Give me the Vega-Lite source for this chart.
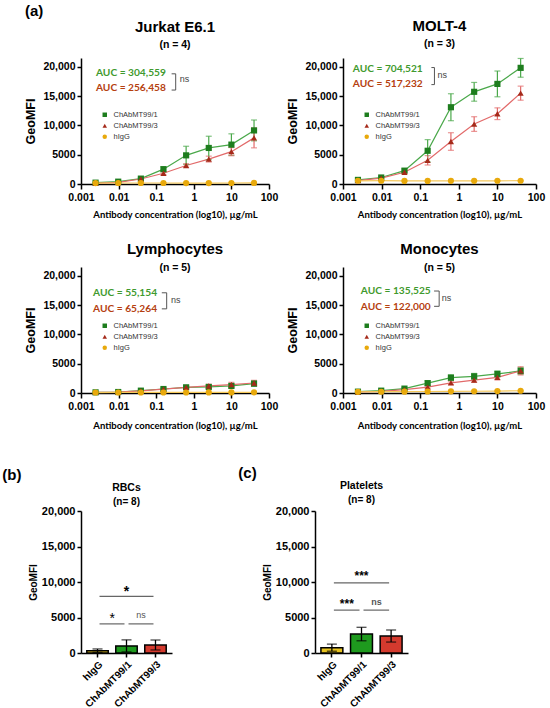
{
  "$schema": "https://vega.github.io/schema/vega-lite/v6.json",
  "background": "white",
  "padding": {"left": 2, "top": 4, "right": 2, "bottom": 2},
  "config": {
    "view": {"stroke": null},
    "font": "Liberation Sans",
    "axis": {
      "domainColor": "black", "domainWidth": 1.5, "tickColor": "black", "tickWidth": 1.5,
      "grid": false, "labelColor": "black", "labelFont": "Liberation Sans", "labelFontWeight": "bold",
      "titleColor": "black", "titleFont": "Liberation Sans", "titleFontWeight": "bold"
    },
    "axisY": {"tickCount": 5, "labelOverlap": false, "labelExpr": "datum.value >= 10000 ? format(datum.value, ',') : format(datum.value, 'd')"},
    "title": {
      "font": "Liberation Sans", "fontWeight": "bold", "color": "black",
      "subtitleFont": "Liberation Sans", "subtitleFontWeight": "bold", "subtitleColor": "black"
    }
  },
  "datasets": {
    "jurkat": [
      {"ab": "ChAbMT99/1", "conc": 0.00244, "mfi": 230, "sd": 60},
      {"ab": "ChAbMT99/1", "conc": 0.00977, "mfi": 400, "sd": 80},
      {"ab": "ChAbMT99/1", "conc": 0.0391, "mfi": 920, "sd": 150},
      {"ab": "ChAbMT99/1", "conc": 0.156, "mfi": 2530, "sd": 400},
      {"ab": "ChAbMT99/1", "conc": 0.625, "mfi": 4890, "sd": 1550},
      {"ab": "ChAbMT99/1", "conc": 2.5, "mfi": 6150, "sd": 2000},
      {"ab": "ChAbMT99/1", "conc": 10, "mfi": 6720, "sd": 1840},
      {"ab": "ChAbMT99/1", "conc": 40, "mfi": 9140, "sd": 1780},
      {"ab": "ChAbMT99/3", "conc": 0.00244, "mfi": 115, "sd": 50},
      {"ab": "ChAbMT99/3", "conc": 0.00977, "mfi": 290, "sd": 60},
      {"ab": "ChAbMT99/3", "conc": 0.0391, "mfi": 850, "sd": 120},
      {"ab": "ChAbMT99/3", "conc": 0.156, "mfi": 1840, "sd": 250},
      {"ab": "ChAbMT99/3", "conc": 0.625, "mfi": 3160, "sd": 300},
      {"ab": "ChAbMT99/3", "conc": 2.5, "mfi": 4250, "sd": 500},
      {"ab": "ChAbMT99/3", "conc": 10, "mfi": 5520, "sd": 700},
      {"ab": "ChAbMT99/3", "conc": 40, "mfi": 7870, "sd": 1700},
      {"ab": "hIgG", "conc": 0.00244, "mfi": 160, "sd": 30},
      {"ab": "hIgG", "conc": 0.00977, "mfi": 170, "sd": 30},
      {"ab": "hIgG", "conc": 0.0391, "mfi": 170, "sd": 30},
      {"ab": "hIgG", "conc": 0.156, "mfi": 170, "sd": 30},
      {"ab": "hIgG", "conc": 0.625, "mfi": 160, "sd": 30},
      {"ab": "hIgG", "conc": 2.5, "mfi": 160, "sd": 30},
      {"ab": "hIgG", "conc": 10, "mfi": 170, "sd": 30},
      {"ab": "hIgG", "conc": 40, "mfi": 180, "sd": 30}
    ],
    "molt": [
      {"ab": "ChAbMT99/1", "conc": 0.00244, "mfi": 700, "sd": 100},
      {"ab": "ChAbMT99/1", "conc": 0.00977, "mfi": 1110, "sd": 150},
      {"ab": "ChAbMT99/1", "conc": 0.0391, "mfi": 2280, "sd": 300},
      {"ab": "ChAbMT99/1", "conc": 0.156, "mfi": 5670, "sd": 1900},
      {"ab": "ChAbMT99/1", "conc": 0.625, "mfi": 13100, "sd": 2300},
      {"ab": "ChAbMT99/1", "conc": 2.5, "mfi": 15730, "sd": 1600},
      {"ab": "ChAbMT99/1", "conc": 10, "mfi": 17080, "sd": 2200},
      {"ab": "ChAbMT99/1", "conc": 40, "mfi": 19820, "sd": 1600},
      {"ab": "ChAbMT99/3", "conc": 0.00244, "mfi": 580, "sd": 80},
      {"ab": "ChAbMT99/3", "conc": 0.00977, "mfi": 1000, "sd": 120},
      {"ab": "ChAbMT99/3", "conc": 0.0391, "mfi": 2000, "sd": 200},
      {"ab": "ChAbMT99/3", "conc": 0.156, "mfi": 4040, "sd": 800},
      {"ab": "ChAbMT99/3", "conc": 0.625, "mfi": 7250, "sd": 1500},
      {"ab": "ChAbMT99/3", "conc": 2.5, "mfi": 10230, "sd": 1250},
      {"ab": "ChAbMT99/3", "conc": 10, "mfi": 11990, "sd": 1000},
      {"ab": "ChAbMT99/3", "conc": 40, "mfi": 15500, "sd": 1200},
      {"ab": "hIgG", "conc": 0.00244, "mfi": 550, "sd": 50},
      {"ab": "hIgG", "conc": 0.00977, "mfi": 560, "sd": 50},
      {"ab": "hIgG", "conc": 0.0391, "mfi": 520, "sd": 50},
      {"ab": "hIgG", "conc": 0.156, "mfi": 530, "sd": 50},
      {"ab": "hIgG", "conc": 0.625, "mfi": 540, "sd": 50},
      {"ab": "hIgG", "conc": 2.5, "mfi": 540, "sd": 50},
      {"ab": "hIgG", "conc": 10, "mfi": 550, "sd": 50},
      {"ab": "hIgG", "conc": 40, "mfi": 560, "sd": 50}
    ],
    "lymph": [
      {"ab": "ChAbMT99/1", "conc": 0.00244, "mfi": 110, "sd": 30},
      {"ab": "ChAbMT99/1", "conc": 0.00977, "mfi": 170, "sd": 40},
      {"ab": "ChAbMT99/1", "conc": 0.0391, "mfi": 400, "sd": 80},
      {"ab": "ChAbMT99/1", "conc": 0.156, "mfi": 680, "sd": 150},
      {"ab": "ChAbMT99/1", "conc": 0.625, "mfi": 970, "sd": 200},
      {"ab": "ChAbMT99/1", "conc": 2.5, "mfi": 1030, "sd": 250},
      {"ab": "ChAbMT99/1", "conc": 10, "mfi": 1200, "sd": 350},
      {"ab": "ChAbMT99/1", "conc": 40, "mfi": 1600, "sd": 450},
      {"ab": "ChAbMT99/3", "conc": 0.00244, "mfi": 100, "sd": 30},
      {"ab": "ChAbMT99/3", "conc": 0.00977, "mfi": 160, "sd": 40},
      {"ab": "ChAbMT99/3", "conc": 0.0391, "mfi": 360, "sd": 80},
      {"ab": "ChAbMT99/3", "conc": 0.156, "mfi": 650, "sd": 150},
      {"ab": "ChAbMT99/3", "conc": 0.625, "mfi": 950, "sd": 200},
      {"ab": "ChAbMT99/3", "conc": 2.5, "mfi": 1200, "sd": 300},
      {"ab": "ChAbMT99/3", "conc": 10, "mfi": 1420, "sd": 400},
      {"ab": "ChAbMT99/3", "conc": 40, "mfi": 1710, "sd": 450},
      {"ab": "hIgG", "conc": 0.00244, "mfi": 80, "sd": 20},
      {"ab": "hIgG", "conc": 0.00977, "mfi": 90, "sd": 20},
      {"ab": "hIgG", "conc": 0.0391, "mfi": 90, "sd": 20},
      {"ab": "hIgG", "conc": 0.156, "mfi": 90, "sd": 20},
      {"ab": "hIgG", "conc": 0.625, "mfi": 90, "sd": 20},
      {"ab": "hIgG", "conc": 2.5, "mfi": 100, "sd": 20},
      {"ab": "hIgG", "conc": 10, "mfi": 100, "sd": 20},
      {"ab": "hIgG", "conc": 40, "mfi": 110, "sd": 20}
    ],
    "mono": [
      {"ab": "ChAbMT99/1", "conc": 0.00244, "mfi": 230, "sd": 60},
      {"ab": "ChAbMT99/1", "conc": 0.00977, "mfi": 400, "sd": 80},
      {"ab": "ChAbMT99/1", "conc": 0.0391, "mfi": 750, "sd": 150},
      {"ab": "ChAbMT99/1", "conc": 0.156, "mfi": 1680, "sd": 400},
      {"ab": "ChAbMT99/1", "conc": 0.625, "mfi": 2610, "sd": 500},
      {"ab": "ChAbMT99/1", "conc": 2.5, "mfi": 2840, "sd": 500},
      {"ab": "ChAbMT99/1", "conc": 10, "mfi": 3250, "sd": 500},
      {"ab": "ChAbMT99/1", "conc": 40, "mfi": 3770, "sd": 600},
      {"ab": "ChAbMT99/3", "conc": 0.00244, "mfi": 170, "sd": 40},
      {"ab": "ChAbMT99/3", "conc": 0.00977, "mfi": 290, "sd": 60},
      {"ab": "ChAbMT99/3", "conc": 0.0391, "mfi": 580, "sd": 100},
      {"ab": "ChAbMT99/3", "conc": 0.156, "mfi": 990, "sd": 200},
      {"ab": "ChAbMT99/3", "conc": 0.625, "mfi": 1740, "sd": 300},
      {"ab": "ChAbMT99/3", "conc": 2.5, "mfi": 2200, "sd": 350},
      {"ab": "ChAbMT99/3", "conc": 10, "mfi": 2670, "sd": 450},
      {"ab": "ChAbMT99/3", "conc": 40, "mfi": 3770, "sd": 700},
      {"ab": "hIgG", "conc": 0.00244, "mfi": 200, "sd": 50},
      {"ab": "hIgG", "conc": 0.00977, "mfi": 220, "sd": 50},
      {"ab": "hIgG", "conc": 0.0391, "mfi": 230, "sd": 50},
      {"ab": "hIgG", "conc": 0.156, "mfi": 260, "sd": 50},
      {"ab": "hIgG", "conc": 0.625, "mfi": 280, "sd": 50},
      {"ab": "hIgG", "conc": 2.5, "mfi": 300, "sd": 50},
      {"ab": "hIgG", "conc": 10, "mfi": 330, "sd": 50},
      {"ab": "hIgG", "conc": 40, "mfi": 380, "sd": 50}
    ],
    "rbc": [
      {"ab": "hIgG", "mfi": 330, "sd": 240},
      {"ab": "ChAbMT99/1", "mfi": 1000, "sd": 850},
      {"ab": "ChAbMT99/3", "mfi": 1130, "sd": 700}
    ],
    "plt": [
      {"ab": "hIgG", "mfi": 750, "sd": 500},
      {"ab": "ChAbMT99/1", "mfi": 2670, "sd": 950},
      {"ab": "ChAbMT99/3", "mfi": 2390, "sd": 850}
    ]
  },
  "vconcat": [
    {
      "title": {"text": "(a)", "anchor": "start", "fontSize": 15, "dx": 0, "offset": 0},
      "spacing": 22,
      "vconcat": [
        {
          "spacing": 8,
          "hconcat": [
            {
              "width": 188, "height": 126,
              "title": {"text": "Jurkat E6.1", "subtitle": "(n = 4)", "fontSize": 15, "subtitleFontSize": 10.5, "subtitlePadding": 5, "offset": 8},
              "data": {"name": "jurkat"},
              "layer": [
                {
                  "mark": {"type": "line", "strokeWidth": 1.2},
                  "encoding": {
                    "x": {"field": "conc", "type": "quantitative", "scale": {"type": "log", "domain": [0.001, 100]}, "title": "Antibody concentration (log10), µg/mL",
                      "axis": {"values": [0.001, 0.01, 0.1, 1, 10, 100], "format": "~g", "labelFontSize": 10.5, "tickSize": 5, "labelPadding": 3, "labelFlush": false, "labelOverlap": false, "titleFont": "Lato", "titleFontSize": 9.5, "titlePadding": 7}},
                    "y": {"field": "mfi", "type": "quantitative", "scale": {"domain": [0, 21500], "nice": false}, "title": "GeoMFI",
                      "axis": {"values": [0, 5000, 10000, 15000, 20000], "labelFontSize": 10.5, "tickSize": 4, "labelPadding": 2, "titleFontSize": 12.5, "titlePadding": 5}},
                    "color": {"field": "ab", "type": "nominal", "scale": {"domain": ["ChAbMT99/1", "ChAbMT99/3", "hIgG"], "range": ["#4aa84a", "#e26a6a", "#f5c85a"]}, "legend": null}
                  }
                },
                {
                  "mark": {"type": "errorbar", "ticks": {"size": 6}, "thickness": 1.2},
                  "encoding": {
                    "x": {"field": "conc", "type": "quantitative"},
                    "y": {"field": "mfi", "type": "quantitative", "title": "GeoMFI"},
                    "yError": {"field": "sd"},
                    "color": {"field": "ab", "type": "nominal", "scale": {"domain": ["ChAbMT99/1", "ChAbMT99/3", "hIgG"], "range": ["#4aa84a", "#e26a6a", "#f5c85a"]}, "legend": null}
                  }
                },
                {
                  "mark": {"type": "point", "filled": true, "opacity": 1, "size": 38},
                  "encoding": {
                    "x": {"field": "conc", "type": "quantitative"},
                    "y": {"field": "mfi", "type": "quantitative"},
                    "color": {"field": "ab", "type": "nominal", "scale": {"domain": ["ChAbMT99/1", "ChAbMT99/3", "hIgG"], "range": ["#1e7d1e", "#a52a1a", "#e8a90c"]},
                      "legend": {"orient": "none", "legendX": 20, "legendY": 53, "title": null, "labelFontSize": 7.5, "labelFont": "Liberation Sans", "labelColor": "#333", "symbolSize": 20, "rowPadding": 2, "labelOffset": 5}},
                    "shape": {"field": "ab", "type": "nominal", "scale": {"domain": ["ChAbMT99/1", "ChAbMT99/3", "hIgG"], "range": ["square", "triangle-up", "circle"]},
                      "legend": {"orient": "none", "legendX": 20, "legendY": 53, "title": null, "labelFontSize": 7.5, "labelFont": "Liberation Sans", "labelColor": "#333", "symbolSize": 20, "rowPadding": 2, "labelOffset": 5}}
                  }
                },
                {
                  "data": {"values": [
                    {"label": "AUC = 304,559", "ab": "ChAbMT99/1", "conc": 0.0025, "mfi": 18970},
                    {"label": "AUC = 256,458", "ab": "ChAbMT99/3", "conc": 0.0025, "mfi": 16380}
                  ]},
                  "mark": {"type": "text", "align": "left", "baseline": "middle", "font": "Lato", "fontWeight": "bold", "fontSize": 10.2},
                  "encoding": {
                    "x": {"field": "conc", "type": "quantitative"},
                    "y": {"field": "mfi", "type": "quantitative"},
                    "text": {"field": "label"},
                    "color": {"field": "ab", "type": "nominal", "scale": {"domain": ["ChAbMT99/1", "ChAbMT99/3"], "range": ["#3f9a2e", "#b5400f"]}, "legend": null}
                  }
                },
                {
                  "data": {"values": [
                    {"o": 1, "conc": 0.257, "mfi": 18800},
                    {"o": 2, "conc": 0.33, "mfi": 18800},
                    {"o": 3, "conc": 0.33, "mfi": 16030},
                    {"o": 4, "conc": 0.257, "mfi": 16030}
                  ]},
                  "mark": {"type": "line", "color": "#555", "strokeWidth": 1},
                  "encoding": {
                    "x": {"field": "conc", "type": "quantitative"},
                    "y": {"field": "mfi", "type": "quantitative"},
                    "order": {"field": "o"}
                  }
                },
                {
                  "data": {"values": [{"label": "ns", "conc": 0.42, "mfi": 17930}]},
                  "mark": {"type": "text", "align": "left", "baseline": "middle", "fontSize": 9, "color": "#444"},
                  "encoding": {
                    "x": {"field": "conc", "type": "quantitative"},
                    "y": {"field": "mfi", "type": "quantitative"},
                    "text": {"field": "label"}
                  }
                }
              ],
              "resolve": {"scale": {"color": "independent", "shape": "independent"}}
            },
            {
              "width": 193, "height": 126,
              "title": {"text": "MOLT-4", "subtitle": "(n = 3)", "fontSize": 15, "subtitleFontSize": 10.5, "subtitlePadding": 5, "offset": 8},
              "data": {"name": "molt"},
              "layer": [
                {
                  "mark": {"type": "line", "strokeWidth": 1.2},
                  "encoding": {
                    "x": {"field": "conc", "type": "quantitative", "scale": {"type": "log", "domain": [0.001, 100]}, "title": "Antibody concentration (log10), µg/mL",
                      "axis": {"values": [0.001, 0.01, 0.1, 1, 10, 100], "format": "~g", "labelFontSize": 10.5, "tickSize": 5, "labelPadding": 3, "labelFlush": false, "labelOverlap": false, "titleFont": "Lato", "titleFontSize": 9.5, "titlePadding": 7}},
                    "y": {"field": "mfi", "type": "quantitative", "scale": {"domain": [0, 21500], "nice": false}, "title": "GeoMFI",
                      "axis": {"values": [0, 5000, 10000, 15000, 20000], "labelFontSize": 10.5, "tickSize": 4, "labelPadding": 2, "titleFontSize": 12.5, "titlePadding": 5}},
                    "color": {"field": "ab", "type": "nominal", "scale": {"domain": ["ChAbMT99/1", "ChAbMT99/3", "hIgG"], "range": ["#4aa84a", "#e26a6a", "#f5c85a"]}, "legend": null}
                  }
                },
                {
                  "mark": {"type": "errorbar", "ticks": {"size": 6}, "thickness": 1.2},
                  "encoding": {
                    "x": {"field": "conc", "type": "quantitative"},
                    "y": {"field": "mfi", "type": "quantitative", "title": "GeoMFI"},
                    "yError": {"field": "sd"},
                    "color": {"field": "ab", "type": "nominal", "scale": {"domain": ["ChAbMT99/1", "ChAbMT99/3", "hIgG"], "range": ["#4aa84a", "#e26a6a", "#f5c85a"]}, "legend": null}
                  }
                },
                {
                  "mark": {"type": "point", "filled": true, "opacity": 1, "size": 38},
                  "encoding": {
                    "x": {"field": "conc", "type": "quantitative"},
                    "y": {"field": "mfi", "type": "quantitative"},
                    "color": {"field": "ab", "type": "nominal", "scale": {"domain": ["ChAbMT99/1", "ChAbMT99/3", "hIgG"], "range": ["#1e7d1e", "#a52a1a", "#e8a90c"]},
                      "legend": {"orient": "none", "legendX": 20, "legendY": 53, "title": null, "labelFontSize": 7.5, "labelFont": "Liberation Sans", "labelColor": "#333", "symbolSize": 20, "rowPadding": 2, "labelOffset": 5}},
                    "shape": {"field": "ab", "type": "nominal", "scale": {"domain": ["ChAbMT99/1", "ChAbMT99/3", "hIgG"], "range": ["square", "triangle-up", "circle"]},
                      "legend": {"orient": "none", "legendX": 20, "legendY": 53, "title": null, "labelFontSize": 7.5, "labelFont": "Liberation Sans", "labelColor": "#333", "symbolSize": 20, "rowPadding": 2, "labelOffset": 5}}
                  }
                },
                {
                  "data": {"values": [
                    {"label": "AUC = 704,521", "ab": "ChAbMT99/1", "conc": 0.0018, "mfi": 19650},
                    {"label": "AUC = 517,232", "ab": "ChAbMT99/3", "conc": 0.0018, "mfi": 17010}
                  ]},
                  "mark": {"type": "text", "align": "left", "baseline": "middle", "font": "Lato", "fontWeight": "bold", "fontSize": 10.2},
                  "encoding": {
                    "x": {"field": "conc", "type": "quantitative"},
                    "y": {"field": "mfi", "type": "quantitative"},
                    "text": {"field": "label"},
                    "color": {"field": "ab", "type": "nominal", "scale": {"domain": ["ChAbMT99/1", "ChAbMT99/3"], "range": ["#3f9a2e", "#b5400f"]}, "legend": null}
                  }
                },
                {
                  "data": {"values": [
                    {"o": 1, "conc": 0.195, "mfi": 19870},
                    {"o": 2, "conc": 0.234, "mfi": 19870},
                    {"o": 3, "conc": 0.234, "mfi": 16960},
                    {"o": 4, "conc": 0.195, "mfi": 16960}
                  ]},
                  "mark": {"type": "line", "color": "#555", "strokeWidth": 1},
                  "encoding": {
                    "x": {"field": "conc", "type": "quantitative"},
                    "y": {"field": "mfi", "type": "quantitative"},
                    "order": {"field": "o"}
                  }
                },
                {
                  "data": {"values": [{"label": "ns", "conc": 0.28, "mfi": 18640}]},
                  "mark": {"type": "text", "align": "left", "baseline": "middle", "fontSize": 9, "color": "#444"},
                  "encoding": {
                    "x": {"field": "conc", "type": "quantitative"},
                    "y": {"field": "mfi", "type": "quantitative"},
                    "text": {"field": "label"}
                  }
                }
              ],
              "resolve": {"scale": {"color": "independent", "shape": "independent"}}
            }
          ]
        },
        {
          "spacing": 8,
          "hconcat": [
            {
              "width": 188, "height": 126,
              "title": {"text": "Lymphocytes", "subtitle": "(n = 5)", "fontSize": 15, "subtitleFontSize": 10.5, "subtitlePadding": 6, "offset": -6},
              "data": {"name": "lymph"},
              "layer": [
                {
                  "mark": {"type": "line", "strokeWidth": 1.2},
                  "encoding": {
                    "x": {"field": "conc", "type": "quantitative", "scale": {"type": "log", "domain": [0.001, 100]}, "title": "Antibody concentration (log10), µg/mL",
                      "axis": {"values": [0.001, 0.01, 0.1, 1, 10, 100], "format": "~g", "labelFontSize": 10.5, "tickSize": 5, "labelPadding": 3, "labelFlush": false, "labelOverlap": false, "titleFont": "Lato", "titleFontSize": 9.5, "titlePadding": 9}},
                    "y": {"field": "mfi", "type": "quantitative", "scale": {"domain": [0, 21500], "nice": false}, "title": "GeoMFI",
                      "axis": {"values": [0, 5000, 10000, 15000, 20000], "labelFontSize": 10.5, "tickSize": 4, "labelPadding": 2, "titleFontSize": 12.5, "titlePadding": 5}},
                    "color": {"field": "ab", "type": "nominal", "scale": {"domain": ["ChAbMT99/1", "ChAbMT99/3", "hIgG"], "range": ["#4aa84a", "#e26a6a", "#f5c85a"]}, "legend": null}
                  }
                },
                {
                  "mark": {"type": "errorbar", "ticks": {"size": 6}, "thickness": 1.2},
                  "encoding": {
                    "x": {"field": "conc", "type": "quantitative"},
                    "y": {"field": "mfi", "type": "quantitative", "title": "GeoMFI"},
                    "yError": {"field": "sd"},
                    "color": {"field": "ab", "type": "nominal", "scale": {"domain": ["ChAbMT99/1", "ChAbMT99/3", "hIgG"], "range": ["#4aa84a", "#e26a6a", "#f5c85a"]}, "legend": null}
                  }
                },
                {
                  "mark": {"type": "point", "filled": true, "opacity": 1, "size": 38},
                  "encoding": {
                    "x": {"field": "conc", "type": "quantitative"},
                    "y": {"field": "mfi", "type": "quantitative"},
                    "color": {"field": "ab", "type": "nominal", "scale": {"domain": ["ChAbMT99/1", "ChAbMT99/3", "hIgG"], "range": ["#1e7d1e", "#a52a1a", "#e8a90c"]},
                      "legend": {"orient": "none", "legendX": 20, "legendY": 55, "title": null, "labelFontSize": 7.5, "labelFont": "Liberation Sans", "labelColor": "#333", "symbolSize": 20, "rowPadding": 2, "labelOffset": 5}},
                    "shape": {"field": "ab", "type": "nominal", "scale": {"domain": ["ChAbMT99/1", "ChAbMT99/3", "hIgG"], "range": ["square", "triangle-up", "circle"]},
                      "legend": {"orient": "none", "legendX": 20, "legendY": 55, "title": null, "labelFontSize": 7.5, "labelFont": "Liberation Sans", "labelColor": "#333", "symbolSize": 20, "rowPadding": 2, "labelOffset": 5}}
                  }
                },
                {
                  "data": {"values": [
                    {"label": "AUC = 55,154", "ab": "ChAbMT99/1", "conc": 0.0021, "mfi": 17050},
                    {"label": "AUC = 65,264", "ab": "ChAbMT99/3", "conc": 0.0021, "mfi": 14360}
                  ]},
                  "mark": {"type": "text", "align": "left", "baseline": "middle", "font": "Lato", "fontWeight": "bold", "fontSize": 10.2},
                  "encoding": {
                    "x": {"field": "conc", "type": "quantitative"},
                    "y": {"field": "mfi", "type": "quantitative"},
                    "text": {"field": "label"},
                    "color": {"field": "ab", "type": "nominal", "scale": {"domain": ["ChAbMT99/1", "ChAbMT99/3"], "range": ["#3f9a2e", "#b5400f"]}, "legend": null}
                  }
                },
                {
                  "data": {"values": [
                    {"o": 1, "conc": 0.141, "mfi": 17100},
                    {"o": 2, "conc": 0.19, "mfi": 17100},
                    {"o": 3, "conc": 0.19, "mfi": 14360},
                    {"o": 4, "conc": 0.141, "mfi": 14360}
                  ]},
                  "mark": {"type": "line", "color": "#555", "strokeWidth": 1},
                  "encoding": {
                    "x": {"field": "conc", "type": "quantitative"},
                    "y": {"field": "mfi", "type": "quantitative"},
                    "order": {"field": "o"}
                  }
                },
                {
                  "data": {"values": [{"label": "ns", "conc": 0.246, "mfi": 15900}]},
                  "mark": {"type": "text", "align": "left", "baseline": "middle", "fontSize": 9, "color": "#444"},
                  "encoding": {
                    "x": {"field": "conc", "type": "quantitative"},
                    "y": {"field": "mfi", "type": "quantitative"},
                    "text": {"field": "label"}
                  }
                }
              ],
              "resolve": {"scale": {"color": "independent", "shape": "independent"}}
            },
            {
              "width": 193, "height": 126,
              "title": {"text": "Monocytes", "subtitle": "(n = 5)", "fontSize": 15, "subtitleFontSize": 10.5, "subtitlePadding": 6, "offset": -6},
              "data": {"name": "mono"},
              "layer": [
                {
                  "mark": {"type": "line", "strokeWidth": 1.2},
                  "encoding": {
                    "x": {"field": "conc", "type": "quantitative", "scale": {"type": "log", "domain": [0.001, 100]}, "title": "Antibody concentration (log10), µg/mL",
                      "axis": {"values": [0.001, 0.01, 0.1, 1, 10, 100], "format": "~g", "labelFontSize": 10.5, "tickSize": 5, "labelPadding": 3, "labelFlush": false, "labelOverlap": false, "titleFont": "Lato", "titleFontSize": 9.5, "titlePadding": 9}},
                    "y": {"field": "mfi", "type": "quantitative", "scale": {"domain": [0, 21500], "nice": false}, "title": "GeoMFI",
                      "axis": {"values": [0, 5000, 10000, 15000, 20000], "labelFontSize": 10.5, "tickSize": 4, "labelPadding": 2, "titleFontSize": 12.5, "titlePadding": 5}},
                    "color": {"field": "ab", "type": "nominal", "scale": {"domain": ["ChAbMT99/1", "ChAbMT99/3", "hIgG"], "range": ["#4aa84a", "#e26a6a", "#f5c85a"]}, "legend": null}
                  }
                },
                {
                  "mark": {"type": "errorbar", "ticks": {"size": 6}, "thickness": 1.2},
                  "encoding": {
                    "x": {"field": "conc", "type": "quantitative"},
                    "y": {"field": "mfi", "type": "quantitative", "title": "GeoMFI"},
                    "yError": {"field": "sd"},
                    "color": {"field": "ab", "type": "nominal", "scale": {"domain": ["ChAbMT99/1", "ChAbMT99/3", "hIgG"], "range": ["#4aa84a", "#e26a6a", "#f5c85a"]}, "legend": null}
                  }
                },
                {
                  "mark": {"type": "point", "filled": true, "opacity": 1, "size": 38},
                  "encoding": {
                    "x": {"field": "conc", "type": "quantitative"},
                    "y": {"field": "mfi", "type": "quantitative"},
                    "color": {"field": "ab", "type": "nominal", "scale": {"domain": ["ChAbMT99/1", "ChAbMT99/3", "hIgG"], "range": ["#1e7d1e", "#a52a1a", "#e8a90c"]},
                      "legend": {"orient": "none", "legendX": 20, "legendY": 55, "title": null, "labelFontSize": 7.5, "labelFont": "Liberation Sans", "labelColor": "#333", "symbolSize": 20, "rowPadding": 2, "labelOffset": 5}},
                    "shape": {"field": "ab", "type": "nominal", "scale": {"domain": ["ChAbMT99/1", "ChAbMT99/3", "hIgG"], "range": ["square", "triangle-up", "circle"]},
                      "legend": {"orient": "none", "legendX": 20, "legendY": 55, "title": null, "labelFontSize": 7.5, "labelFont": "Liberation Sans", "labelColor": "#333", "symbolSize": 20, "rowPadding": 2, "labelOffset": 5}}
                  }
                },
                {
                  "data": {"values": [
                    {"label": "AUC = 135,525", "ab": "ChAbMT99/1", "conc": 0.0029, "mfi": 17450},
                    {"label": "AUC = 122,000", "ab": "ChAbMT99/3", "conc": 0.0029, "mfi": 14740}
                  ]},
                  "mark": {"type": "text", "align": "left", "baseline": "middle", "font": "Lato", "fontWeight": "bold", "fontSize": 10.2},
                  "encoding": {
                    "x": {"field": "conc", "type": "quantitative"},
                    "y": {"field": "mfi", "type": "quantitative"},
                    "text": {"field": "label"},
                    "color": {"field": "ab", "type": "nominal", "scale": {"domain": ["ChAbMT99/1", "ChAbMT99/3"], "range": ["#3f9a2e", "#b5400f"]}, "legend": null}
                  }
                },
                {
                  "data": {"values": [
                    {"o": 1, "conc": 0.229, "mfi": 17400},
                    {"o": 2, "conc": 0.31, "mfi": 17400},
                    {"o": 3, "conc": 0.31, "mfi": 14790},
                    {"o": 4, "conc": 0.229, "mfi": 14790}
                  ]},
                  "mark": {"type": "line", "color": "#555", "strokeWidth": 1},
                  "encoding": {
                    "x": {"field": "conc", "type": "quantitative"},
                    "y": {"field": "mfi", "type": "quantitative"},
                    "order": {"field": "o"}
                  }
                },
                {
                  "data": {"values": [{"label": "ns", "conc": 0.36, "mfi": 16130}]},
                  "mark": {"type": "text", "align": "left", "baseline": "middle", "fontSize": 9, "color": "#444"},
                  "encoding": {
                    "x": {"field": "conc", "type": "quantitative"},
                    "y": {"field": "mfi", "type": "quantitative"},
                    "text": {"field": "label"}
                  }
                }
              ],
              "resolve": {"scale": {"color": "independent", "shape": "independent"}}
            }
          ]
        }
      ]
    },
    {
      "spacing": 66,
      "hconcat": [
        {
          "title": {"text": "(b)", "anchor": "start", "fontSize": 15, "dx": -26, "offset": 0},
          "hconcat": [
            {
              "width": 91, "height": 142,
              "title": {"text": "RBCs", "subtitle": "(n= 8)", "fontSize": 10.5, "subtitleFontSize": 10, "subtitlePadding": 4, "offset": -2},
              "data": {"name": "rbc"},
              "layer": [
                {
                  "mark": {"type": "bar", "stroke": "black", "strokeWidth": 1.5},
                  "encoding": {
                    "x": {"field": "ab", "type": "nominal", "title": null, "scale": {"domain": ["hIgG", "ChAbMT99/1", "ChAbMT99/3"], "paddingInner": 0.26, "paddingOuter": 0.2},
                      "axis": {"labelAngle": -45, "labelFontSize": 10, "tickSize": 4, "labelPadding": 2}},
                    "y": {"field": "mfi", "type": "quantitative", "scale": {"domain": [0, 20000], "nice": false}, "title": "GeoMFI",
                      "axis": {"values": [0, 5000, 10000, 15000, 20000], "labelFontSize": 11, "tickSize": 4, "labelPadding": 2, "titleFontSize": 10, "titlePadding": 3}},
                    "color": {"field": "ab", "type": "nominal", "scale": {"domain": ["hIgG", "ChAbMT99/1", "ChAbMT99/3"], "range": ["#e6c21f", "#1e9a1e", "#d43a2e"]}, "legend": null}
                  }
                },
                {
                  "mark": {"type": "errorbar", "ticks": {"size": 10}, "thickness": 1.3, "color": "black"},
                  "encoding": {
                    "x": {"field": "ab", "type": "nominal"},
                    "y": {"field": "mfi", "type": "quantitative", "title": "GeoMFI"},
                    "yError": {"field": "sd"}
                  }
                },
                {
                  "data": {"values": [
                    {"a": "hIgG", "b": "ChAbMT99/3", "y": 7970},
                    {"a": "hIgG", "b": "ChAbMT99/1", "y": 4100},
                    {"a": "ChAbMT99/1", "b": "ChAbMT99/3", "y": 4100}
                  ]},
                  "mark": {"type": "rule", "color": "#666", "strokeWidth": 1.2, "xOffset": 2, "x2Offset": -2},
                  "encoding": {
                    "x": {"field": "a", "type": "nominal"},
                    "x2": {"field": "b"},
                    "y": {"field": "y", "type": "quantitative"}
                  }
                },
                {
                  "data": {"values": [{"label": "*", "at": "ChAbMT99/1", "y": 8600}]},
                  "mark": {"type": "text", "fontSize": 14, "fontWeight": "bold", "baseline": "middle", "color": "black"},
                  "encoding": {
                    "x": {"field": "at", "type": "nominal"},
                    "y": {"field": "y", "type": "quantitative"},
                    "text": {"field": "label"}
                  }
                },
                {
                  "data": {"values": [
                    {"label": "*", "at": "hIgG", "y": 4750, "kind": "star"},
                    {"label": "ns", "at": "ChAbMT99/1", "y": 5380, "kind": "ns"}
                  ]},
                  "mark": {"type": "text", "baseline": "middle"},
                  "encoding": {
                    "x": {"field": "at", "type": "nominal", "bandPosition": 1.18},
                    "y": {"field": "y", "type": "quantitative"},
                    "text": {"field": "label"},
                    "size": {"condition": {"test": "datum.kind == 'star'", "value": 14}, "value": 9},
                    "color": {"condition": {"test": "datum.kind == 'star'", "value": "black"}, "value": "#555"}
                  }
                }
              ]
            }
          ]
        },
        {
          "title": {"text": "(c)", "anchor": "start", "fontSize": 15, "dx": -24, "offset": 0},
          "hconcat": [
            {
              "width": 93, "height": 142,
              "title": {"text": "Platelets", "subtitle": "(n= 8)", "fontSize": 10.5, "subtitleFontSize": 10, "subtitlePadding": 4, "offset": 0},
              "data": {"name": "plt"},
              "layer": [
                {
                  "mark": {"type": "bar", "stroke": "black", "strokeWidth": 1.5},
                  "encoding": {
                    "x": {"field": "ab", "type": "nominal", "title": null, "scale": {"domain": ["hIgG", "ChAbMT99/1", "ChAbMT99/3"], "paddingInner": 0.26, "paddingOuter": 0.2},
                      "axis": {"labelAngle": -45, "labelFontSize": 10, "tickSize": 4, "labelPadding": 2}},
                    "y": {"field": "mfi", "type": "quantitative", "scale": {"domain": [0, 20000], "nice": false}, "title": "GeoMFI",
                      "axis": {"values": [0, 5000, 10000, 15000, 20000], "labelFontSize": 11, "tickSize": 4, "labelPadding": 2, "titleFontSize": 10, "titlePadding": 3}},
                    "color": {"field": "ab", "type": "nominal", "scale": {"domain": ["hIgG", "ChAbMT99/1", "ChAbMT99/3"], "range": ["#e6c21f", "#1e9a1e", "#d43a2e"]}, "legend": null}
                  }
                },
                {
                  "mark": {"type": "errorbar", "ticks": {"size": 10}, "thickness": 1.3, "color": "black"},
                  "encoding": {
                    "x": {"field": "ab", "type": "nominal"},
                    "y": {"field": "mfi", "type": "quantitative", "title": "GeoMFI"},
                    "yError": {"field": "sd"}
                  }
                },
                {
                  "data": {"values": [
                    {"a": "hIgG", "b": "ChAbMT99/3", "y": 9880},
                    {"a": "hIgG", "b": "ChAbMT99/1", "y": 6040},
                    {"a": "ChAbMT99/1", "b": "ChAbMT99/3", "y": 6040}
                  ]},
                  "mark": {"type": "rule", "color": "#666", "strokeWidth": 1.2, "xOffset": 2, "x2Offset": -2},
                  "encoding": {
                    "x": {"field": "a", "type": "nominal"},
                    "x2": {"field": "b"},
                    "y": {"field": "y", "type": "quantitative"}
                  }
                },
                {
                  "data": {"values": [{"label": "***", "at": "ChAbMT99/1", "y": 10800}]},
                  "mark": {"type": "text", "fontSize": 12, "fontWeight": "bold", "baseline": "middle", "color": "black"},
                  "encoding": {
                    "x": {"field": "at", "type": "nominal"},
                    "y": {"field": "y", "type": "quantitative"},
                    "text": {"field": "label"}
                  }
                },
                {
                  "data": {"values": [
                    {"label": "***", "at": "hIgG", "y": 6950, "kind": "star"},
                    {"label": "ns", "at": "ChAbMT99/1", "y": 7200, "kind": "ns"}
                  ]},
                  "mark": {"type": "text", "baseline": "middle", "fontWeight": "bold"},
                  "encoding": {
                    "x": {"field": "at", "type": "nominal", "bandPosition": 1.18},
                    "y": {"field": "y", "type": "quantitative"},
                    "text": {"field": "label"},
                    "size": {"condition": {"test": "datum.kind == 'star'", "value": 12}, "value": 9},
                    "color": {"condition": {"test": "datum.kind == 'star'", "value": "black"}, "value": "#555"}
                  }
                }
              ]
            }
          ]
        }
      ]
    }
  ],
  "spacing": 35
}
